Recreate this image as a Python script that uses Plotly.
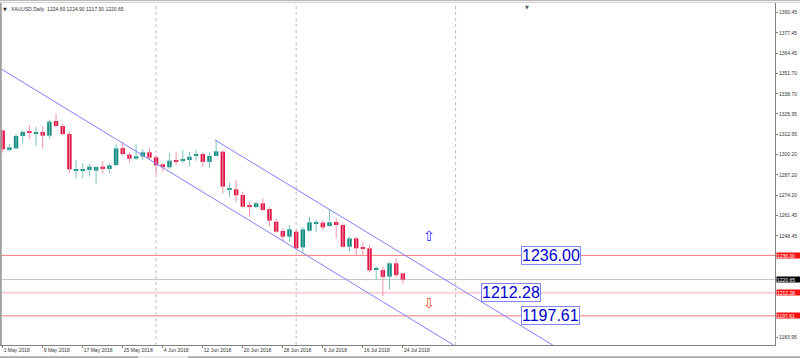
import plotly.graph_objects as go

# ---- data ----
tick_idx = [0, 6, 12, 18, 24, 30, 36, 42, 48, 54, 60]
tick_dates = ["1 May 2018", "9 May 2018", "17 May 2018", "25 May 2018", "4 Jun 2018",
              "12 Jun 2018", "20 Jun 2018", "28 Jun 2018", "6 Jul 2018", "16 Jul 2018", "24 Jul 2018"]

opens = [1315.3, 1303.4, 1304.0, 1311.9, 1314.4, 1313.5, 1314.4, 1312.1, 1321.4, 1318.2,
         1313.1, 1290.1, 1289.9, 1290.3, 1289.9, 1292.4, 1290.9, 1293.4, 1304.2, 1300.0,
         1297.5, 1298.8, 1301.5, 1298.3, 1293.9, 1292.0, 1296.6, 1296.4, 1296.6, 1299.4,
         1300.4, 1295.4, 1299.2, 1301.9, 1278.0, 1278.0, 1274.4, 1268.0, 1266.7, 1269.1,
         1265.5, 1257.4, 1251.5, 1247.9, 1251.1, 1241.1, 1251.7, 1256.5, 1256.8, 1254.7,
         1257.2, 1255.3, 1241.5, 1246.8, 1240.5, 1240.5, 1227.2, 1226.7, 1222.5, 1231.0,
         1224.6]
highs = [1316.1, 1307.0, 1313.2, 1315.7, 1318.9, 1317.8, 1318.2, 1322.0, 1325.9, 1319.5,
         1314.8, 1296.6, 1294.5, 1294.1, 1292.4, 1296.0, 1294.5, 1306.6, 1307.9, 1301.5,
         1306.6, 1303.6, 1304.0, 1299.8, 1294.5, 1300.9, 1301.9, 1303.0, 1301.9, 1303.0,
         1301.3, 1301.3, 1309.3, 1303.0, 1282.2, 1283.9, 1276.5, 1270.1, 1270.1, 1272.3,
         1266.5, 1259.5, 1253.2, 1255.3, 1252.1, 1254.2, 1260.6, 1258.9, 1258.5, 1264.9,
         1259.5, 1256.4, 1247.9, 1247.9, 1244.7, 1242.5, 1228.8, 1229.0, 1231.6, 1234.1,
         1224.9]
lows = [1301.3, 1302.5, 1303.5, 1307.2, 1309.8, 1305.5, 1303.8, 1310.4, 1317.4, 1312.5,
        1288.2, 1285.0, 1284.8, 1286.0, 1281.4, 1288.2, 1288.2, 1292.8, 1299.6, 1295.0,
        1296.6, 1296.6, 1296.6, 1287.7, 1289.2, 1290.7, 1293.5, 1294.5, 1292.4, 1296.2,
        1292.4, 1291.3, 1298.7, 1275.4, 1273.3, 1270.1, 1266.5, 1260.6, 1266.5, 1264.4,
        1254.3, 1250.4, 1245.1, 1244.7, 1239.0, 1237.7, 1251.1, 1251.1, 1252.1, 1254.2,
        1246.8, 1240.9, 1238.4, 1235.6, 1235.6, 1225.2, 1220.6, 1210.2, 1214.4, 1222.1,
        1217.9]
closes = [1303.4, 1304.6, 1311.9, 1314.4, 1314.0, 1314.4, 1312.1, 1321.0, 1318.2, 1313.1,
          1290.7, 1290.4, 1290.9, 1292.4, 1292.2, 1290.9, 1293.2, 1304.0, 1300.4, 1297.5,
          1299.0, 1301.5, 1298.1, 1293.2, 1292.0, 1296.2, 1295.6, 1296.8, 1298.7, 1300.4,
          1295.4, 1299.2, 1302.1, 1279.7, 1278.2, 1274.2, 1266.9, 1266.7, 1269.1, 1264.8,
          1258.1, 1251.1, 1247.9, 1252.6, 1240.5, 1252.6, 1257.0, 1257.0, 1253.8, 1257.0,
          1255.3, 1241.5, 1246.8, 1240.5, 1240.3, 1226.5, 1227.6, 1222.3, 1231.0, 1223.5,
          1220.65]

# visible right-axis labels (those fully hidden behind price tags are omitted)
y_tick_vals = [1390.45, 1377.45, 1364.45, 1351.70, 1338.70, 1325.95, 1312.95, 1300.20,
               1287.20, 1274.20, 1261.45, 1248.45, 1183.95]
y_tick_text = ["1390.45", "1377.45", "1364.45", "1351.70", "1338.70", "1325.95", "1312.95",
               "1300.20", "1287.20", "1274.20", "1261.45", "1248.45", "1183.95"]

levels = [1236.00, 1212.28, 1197.61]
level_text = ["1236.00", "1212.28", "1197.61"]
level_box_x = [82.2, 76.2, 82.2]
current_price = 1220.65
title_text = "XAUUSD,Daily  1224.60 1224.90 1217.90 1220.65"

chan_lower_x = [-0.405, 80.0]
chan_lower_y = [1354.87, 1147.0]
chan_upper_x = [31.83, 95.0]
chan_upper_y = [1309.32, 1146.8]

separators = [23, 44, 67.9]
arrow_up = (63.9, 1248.3)
arrow_down = (63.9, 1205.7)

X_RANGE = [-0.405, 115.79]
Y_RANGE = [1179.08, 1396.36]

UP = "#0e8a7e"
DOWN = "#e01446"
UP_WICK = "#7cc3bd"
DOWN_WICK = "#f293a8"

idx = list(range(len(opens)))
up_i = [i for i in idx if closes[i] >= opens[i]]
dn_i = [i for i in idx if i not in up_i]

fig = go.Figure()

def wick_trace(ids, color):
    xs, ys = [], []
    for i in ids:
        xs += [i, i, None]
        ys += [lows[i], highs[i], None]
    return go.Scatter(x=xs, y=ys, mode="lines", line=dict(color=color, width=1),
                      hoverinfo="skip", showlegend=False)

fig.add_trace(wick_trace(up_i, UP_WICK))
fig.add_trace(wick_trace(dn_i, DOWN_WICK))

def body_trace(ids, color):
    base = [min(opens[i], closes[i]) for i in ids]
    h = [max(abs(closes[i] - opens[i]), 0.65) for i in ids]
    return go.Bar(x=ids, y=h, base=base, width=0.66, marker=dict(color=color, line=dict(width=0)),
                  hoverinfo="skip", showlegend=False)

fig.add_trace(body_trace(up_i, UP))
fig.add_trace(body_trace(dn_i, DOWN))

# channel lines
for cx, cy in ((chan_lower_x, chan_lower_y), (chan_upper_x, chan_upper_y)):
    fig.add_trace(go.Scatter(x=cx, y=cy, mode="lines", line=dict(color="#8080ff", width=1),
                             hoverinfo="skip", showlegend=False))

ann = []
for lv, tx, bx in zip(levels, level_text, level_box_x):
    ann.append(dict(x=bx, y=lv, xref="x", yref="y", text=tx, showarrow=False,
                    font=dict(family="Liberation Sans", size=16, color="#0000cc"),
                    bgcolor="white", bordercolor="#8484ff", borderwidth=1, borderpad=0))
ann.append(dict(x=arrow_up[0], y=arrow_up[1], xref="x", yref="y", text="⇧", showarrow=False,
                font=dict(family="DejaVu Sans", size=14, color="#2a2aff")))
ann.append(dict(x=arrow_down[0], y=arrow_down[1], xref="x", yref="y", text="⇩", showarrow=False,
                font=dict(family="DejaVu Sans", size=14, color="#f04a2a")))
for lv, tx in zip(levels, level_text):
    ann.append(dict(x=1, y=lv, xref="paper", yref="y", text=tx, showarrow=False,
                    xanchor="left", xshift=1, width=23, height=5, align="left",
                    font=dict(family="Liberation Sans", size=5, color="white"),
                    bgcolor="#ff1010", borderpad=0))
ann.append(dict(x=1, y=current_price, xref="paper", yref="y", text=f"{current_price:.2f}",
                showarrow=False, xanchor="left", xshift=1, width=23, height=5, align="left",
                font=dict(family="Liberation Sans", size=5, color="white"),
                bgcolor="#000000", borderpad=0))
ann.append(dict(x=0, y=1, xref="paper", yref="paper", text="▼", showarrow=False,
                xanchor="left", yanchor="top", xshift=1, yshift=-1,
                font=dict(family="DejaVu Sans", size=5, color="#333333")))
ann.append(dict(x=0, y=1, xref="paper", yref="paper", text=title_text, showarrow=False,
                xanchor="left", yanchor="top", xshift=9, yshift=-1,
                font=dict(family="Liberation Sans", size=5, color="#333333")))
ann.append(dict(x=527 / 775, y=1, xref="paper", yref="paper", text="▼", showarrow=False,
                xanchor="center", yanchor="top", yshift=1,
                font=dict(family="DejaVu Sans", size=5, color="#555555")))

shapes = [
    dict(type="line", xref="paper", yref="y", x0=0, x1=1, y0=current_price, y1=current_price,
         line=dict(color="#c4c4c4", width=1), layer="below"),
    dict(type="line", xref="paper", yref="y", x0=0, x1=1, y0=levels[0], y1=levels[0],
         line=dict(color="#ff7a7a", width=1), layer="below"),
    dict(type="line", xref="paper", yref="y", x0=0, x1=1, y0=levels[1], y1=levels[1],
         line=dict(color="#fad0d4", width=2), layer="below"),
    dict(type="line", xref="paper", yref="y", x0=0, x1=1, y0=levels[2], y1=levels[2],
         line=dict(color="#ff7a7a", width=1), layer="below"),
    dict(type="line", xref="paper", yref="paper", x0=0, x1=1.04, y0=1.0085, y1=1.0085,
         line=dict(color="#8a8a8a", width=1)),
    dict(type="line", xref="paper", yref="paper", x0=0, x1=1.04, y0=1.002, y1=1.002,
         line=dict(color="#c8c8c8", width=1)),
    dict(type="line", xref="paper", yref="paper", x0=0.001, x1=0.001, y0=0, y1=1,
         line=dict(color="#a0a0a0", width=2)),
    dict(type="line", xref="paper", yref="paper", x0=0, x1=1.04, y0=-0.036, y1=-0.036,
         line=dict(color="#a8a8a8", width=2)),
    dict(type="line", xref="paper", yref="paper", x0=138 / 775, x1=188 / 775, y0=-0.036, y1=-0.036,
         line=dict(color="#eeeeee", width=2)),
]
for s in separators:
    shapes.append(dict(type="line", xref="x", yref="paper", x0=s, x1=s, y0=0, y1=1,
                       line=dict(color="#bdbdbd", width=1, dash="dot"), layer="below"))

fig.update_layout(
    width=800, height=358, autosize=False,
    margin=dict(l=0, r=25, t=3, b=13),
    paper_bgcolor="white", plot_bgcolor="white",
    barmode="overlay", showlegend=False, hovermode=False,
    font=dict(family="Liberation Sans", size=5, color="#333333"),
    annotations=ann, shapes=shapes,
    xaxis=dict(range=X_RANGE, showgrid=False, zeroline=False, showline=True,
               linecolor="#808080", linewidth=1, ticks="outside", ticklen=2,
               tickcolor="#808080", tickvals=tick_idx, ticktext=tick_dates,
               ticklabelposition="outside right",
               tickfont=dict(family="Liberation Sans", size=5, color="#333333")),
    yaxis=dict(range=Y_RANGE, side="right", showgrid=False, zeroline=False, showline=True,
               linecolor="#808080", linewidth=1, ticks="outside", ticklen=2,
               tickcolor="#808080", tickvals=y_tick_vals, ticktext=y_tick_text,
               tickfont=dict(family="Liberation Sans", size=5, color="#333333")),
)

fig.write_html("out.html")
